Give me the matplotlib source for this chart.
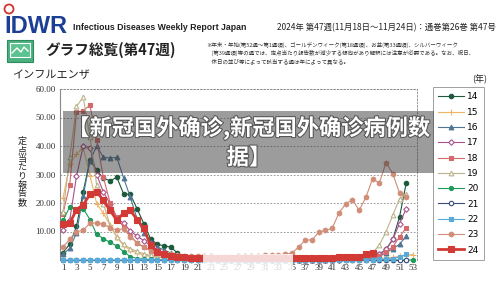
import matplotlib
matplotlib.use("Agg")
import matplotlib.pyplot as plt
from matplotlib.patches import Rectangle, Ellipse
from matplotlib.lines import Line2D
import matplotlib.patheffects as pe

plt.rcParams['font.family'] = ['Noto Sans CJK JP', 'DejaVu Sans']

# ---------------- data (per-sentinel influenza reports by week) ----------------
years = ['14', '15', '16', '17', '18', '19', '20', '21', '22', '23', '24']

y14 = [2.6, 5.6, 11.8, 24.0, 35.0, 31.5, 28.7, 27.8, 29.0, 23.2, 23.0, 18.0, 12.8, 7.5, 5.5, 5.0, 4.5, 2.5, 1.2, 0.7,
       0.4, 0.3, 0.2, 0.1, 0.1, 0.1, 0.1, 0.0, 0.0, 0.0, 0.0, 0.0, 0.0, 0.0, 0.0, 0.1, 0.1, 0.1, 0.1, 0.1,
       0.1, 0.1, 0.2, 0.2, 0.3, 0.5, 0.9, 2.0, 3.7, 7.2, 15.1, 27.0]
y15 = [21.7, 33.8, 37.2, 39.4, 29.6, 19.8, 16.4, 12.2, 8.1, 5.0, 3.5, 2.5, 1.8, 1.3, 1.0, 0.8, 0.6, 0.4, 0.3, 0.2,
       0.1, 0.1, 0.1, 0.1, 0.0, 0.0, 0.0, 0.0, 0.0, 0.0, 0.0, 0.0, 0.0, 0.0, 0.0, 0.0, 0.1, 0.1, 0.1, 0.1,
       0.1, 0.1, 0.1, 0.2, 0.2, 0.3, 0.4, 0.5, 0.7, 0.9, 1.3, 1.7, 1.9]
y16 = [2.0, 4.1, 9.5, 22.6, 34.7, 40.0, 36.0, 35.8, 36.0, 28.8, 22.0, 14.5, 9.5, 6.2, 4.6, 3.5, 2.5, 1.6, 1.0, 0.6,
       0.4, 0.3, 0.2, 0.1, 0.1, 0.1, 0.0, 0.0, 0.0, 0.0, 0.0, 0.0, 0.0, 0.0, 0.0, 0.1, 0.1, 0.1, 0.1, 0.1,
       0.1, 0.2, 0.2, 0.3, 0.4, 0.6, 0.9, 1.4, 2.5, 4.0, 5.5, 8.4]
y17 = [10.6, 14.0, 29.4, 40.0, 39.4, 30.0, 23.8, 19.8, 14.6, 12.9, 10.2, 8.4, 6.8, 5.0, 3.5, 2.5, 1.8, 1.2, 0.8, 0.5,
       0.3, 0.2, 0.2, 0.1, 0.1, 0.1, 0.0, 0.0, 0.0, 0.0, 0.0, 0.0, 0.0, 0.0, 0.0, 0.1, 0.1, 0.1, 0.1, 0.1,
       0.1, 0.1, 0.2, 0.2, 0.3, 0.5, 0.9, 2.0, 3.7, 7.2, 12.8, 18.0]
y18 = [16.3, 26.4, 51.9, 52.4, 54.3, 42.0, 29.0, 20.0, 15.0, 11.5, 8.5, 6.0, 4.5, 3.3, 2.5, 1.8, 1.2, 0.8, 0.5, 0.3,
       0.2, 0.2, 0.1, 0.1, 0.1, 0.1, 0.0, 0.0, 0.0, 0.0, 0.0, 0.0, 0.0, 0.0, 0.0, 0.1, 0.1, 0.1, 0.1, 0.1,
       0.1, 0.1, 0.2, 0.2, 0.3, 0.4, 0.8, 1.5, 2.9, 4.6, 8.1, 11.3]
y19 = [16.8, 36.0, 53.9, 57.1, 43.2, 26.3, 19.8, 12.0, 8.0, 5.5, 4.0, 3.0, 2.2, 1.6, 1.2, 0.9, 0.7, 0.5, 0.4, 0.3,
       0.2, 0.2, 0.2, 0.2, 0.2, 0.2, 0.2, 0.2, 0.2, 0.2, 0.2, 0.2, 0.2, 0.3, 0.3, 0.3, 0.3, 0.3, 0.4, 0.4,
       0.5, 0.6, 0.7, 0.8, 1.0, 1.8, 2.5, 5.2, 9.9, 15.7, 21.5, 23.2]
y20 = [13.9, 18.6, 17.7, 18.0, 14.2, 9.0, 7.5, 6.2, 4.9, 2.9, 1.2, 0.5, 0.3, 0.2, 0.1, 0.0, 0.0, 0.0, 0.0, 0.0,
       0.0, 0.0, 0.0, 0.0, 0.0, 0.0, 0.0, 0.0, 0.0, 0.0, 0.0, 0.0, 0.0, 0.0, 0.0, 0.0, 0.0, 0.0, 0.0, 0.0,
       0.0, 0.0, 0.0, 0.0, 0.0, 0.0, 0.0, 0.0, 0.0, 0.0, 0.0, 0.0, 0.0]
y21 = [0.0] * 52
y22 = [0.0] * 46 + [0.1, 0.2, 0.3, 0.5, 1.0, 2.0]
y23 = [4.6, 7.3, 9.9, 10.5, 12.9, 13.0, 12.5, 11.3, 10.5, 11.0, 8.1, 6.0, 4.5, 3.5, 2.8, 2.3, 2.0, 1.8, 1.5, 1.4,
       1.4, 1.3, 1.3, 1.2, 1.2, 1.2, 1.3, 1.3, 1.4, 1.5, 1.6, 1.7, 1.8, 2.0,
       2.4, 4.5, 7.0, 7.0, 9.8, 10.4, 11.1, 16.5, 19.7, 21.2, 17.4, 22.0, 28.5, 27.0, 34.2, 30.3, 23.5, 22.0]
y24 = [12.8, 12.9, 17.7, 19.4, 23.0, 24.0, 20.9, 17.4, 13.9, 16.5, 17.4, 14.2, 11.1, 5.2, 2.8, 2.2, 1.5, 1.2, 0.9, 0.8,
       0.7, 0.7, 0.7, 0.7, 0.7, 0.7, 0.7, 0.7, 0.7, 0.7, 0.7, 0.7, 0.7, 0.7, 0.7, 0.7, 0.7, 0.8, 0.8, 0.8,
       0.8, 0.9, 0.9, 0.9, 1.2, 2.0, 2.3]

series = [y14, y15, y16, y17, y18, y19, y20, y21, y22, y23, y24]
week_ticks = list(range(1, 54, 2))
ytick_vals = [10, 20, 30, 40, 50, 60]

colors = ['#1d5a3c', '#f0b468', '#4f7592', '#a8508e', '#d46a6c', '#bdb48c',
          '#1f9a5c', '#3c4c7c', '#5aaad8', '#d08e78', '#d23a36']
markers = ['o', '+', '^', 'D', 's', '^', 'o', 'o', 's', 'h', 's']
mfcs = [None, None, None, 'white', None, 'white', None, 'white', None, None, None]
msizes = [3.2, 4, 3.4, 2.8, 3.2, 3.4, 3.0, 3.2, 3.0, 3.6, 5.0]
lws = [0.8, 0.8, 0.8, 0.8, 0.8, 0.8, 0.8, 0.8, 0.8, 0.8, 2.0]

W, H = 500, 285
fig = plt.figure(figsize=(5.0, 2.85), dpi=100)
fig.patch.set_facecolor('white')

def fx(px):
    return px / W

def fy(py):
    return 1 - py / H

# ---------------- axes ----------------
ax = fig.add_axes([fx(60), fy(260), fx(417) - fx(60), fy(89) - fy(260)])
for i, (yr, vals) in enumerate(zip(years, series)):
    wk = list(range(1, len(vals) + 1))
    mfc = mfcs[i] if mfcs[i] else colors[i]
    ax.plot(wk, vals, color=colors[i], marker=markers[i], markersize=msizes[i],
            markerfacecolor=mfc, markeredgecolor=colors[i], markeredgewidth=0.8,
            linewidth=lws[i], label=yr, clip_on=False, zorder=3 + i * 0.1)

ax.set_xlim(0.55, 53.6)
ax.set_ylim(0, 60)
ax.set_xticks(week_ticks)
ax.set_xticklabels([str(w) for w in week_ticks], fontfamily='Liberation Serif', fontsize=6.5)
ax.set_yticks(ytick_vals)
ax.set_yticklabels([f'{v:.2f}' for v in ytick_vals], fontfamily='Liberation Serif', fontsize=6.5)
ax.tick_params(length=0, pad=3, colors='#333333')
ax.grid(axis='y', linestyle=(0, (2, 2)), color='#888888', linewidth=0.6)
for s in ['top', 'right']:
    ax.spines[s].set_linestyle((0, (2, 2)))
    ax.spines[s].set_color('#888888')
    ax.spines[s].set_linewidth(0.6)
ax.spines['bottom'].set_visible(False)
ax.spines['left'].set_color('#888888')
ax.spines['left'].set_linewidth(0.8)

leg = ax.legend(loc='upper left', bbox_to_anchor=(fx(433), fy(87)), bbox_transform=fig.transFigure,
                handlelength=2.8, handletextpad=0.4, labelspacing=0.7,
                borderpad=0.6, borderaxespad=0, frameon=True, fancybox=False,
                prop={'family': 'DejaVu Sans', 'size': 6.5})
leg.get_frame().set_edgecolor('#888888')
leg.get_frame().set_linewidth(0.7)

fig.text(fx(480), fy(79), '(年)', fontsize=6.5, ha='center', va='center', color='#222222')

# y label (stacked vertical Japanese text)
fig.text(fx(22), fy(172), '\n'.join('定点当たり報告数'), fontsize=6.5, ha='center', va='center',
         linespacing=0.95, color='#222222')
fig.text(fx(12), fy(75), 'インフルエンザ', fontsize=8, ha='left', va='center', color='#222222')

# ---------------- header ----------------
fig.text(fx(4), fy(33), 'IDWR', fontsize=17, fontweight='bold', color='#1c3f96',
         fontfamily=['Liberation Sans', 'DejaVu Sans'], ha='left', va='baseline')
fig.add_artist(Ellipse((fx(9), fy(9)), fx(9), 9 / H, fill=False, edgecolor='#d2332e', linewidth=1.3))
fig.text(fx(73), fy(30), 'Infectious Diseases Weekly Report Japan', fontsize=6.3, fontweight='bold',
         fontfamily=['Liberation Sans', 'DejaVu Sans'], color='#222222', ha='left', va='baseline')
fig.text(fx(496), fy(30), '2024年 第47週(11月18日～11月24日)：通巻第26巻 第47号', fontsize=6.0,
         color='#222222', ha='right', va='baseline')

# icon
fig.add_artist(Rectangle((fx(7), fy(62)), fx(26), 22 / H, facecolor='#49b07e', edgecolor='#2f8a5e', linewidth=0.8))
fig.add_artist(Rectangle((fx(10), fy(57)), fx(20), 14 / H, facecolor='#5cc28f', edgecolor='white', linewidth=0.8))
fig.add_artist(Line2D([fx(12), fx(17), fx(21), fx(24), fx(28)], [fy(53), fy(48), fy(52), fy(47), fy(51)],
                      color='white', linewidth=1.0))
fig.text(fx(45), fy(50), 'グラフ総覧(第47週)', fontsize=10.5, fontweight='bold', color='#222222',
         ha='left', va='center')
note = ('※年末・年始(第52週～第1週頃)、ゴールデンウィーク(第18週頃)、お盆(第33週頃)、シルバーウィーク\n'
        '　(第39週頃)等の週では、定点当たり報告数が減少する傾向があり解釈には注意が必要である。なお、祝日、\n'
        '　休日の並び等によって該当する週は年によって異なる。')
fig.text(fx(206), fy(53), note, fontsize=3.95, color='#333333', ha='left', va='center', linespacing=1.35)

# ---------------- blurred strip near bottom ----------------
fig.add_artist(Rectangle((fx(203), fy(276)), fx(90), 22 / H, facecolor='white', edgecolor='none',
                         alpha=0.8, zorder=20))

# ---------------- banner overlay ----------------
fig.add_artist(Rectangle((fx(63), fy(173)), fx(434 - 63), 62 / H, facecolor='#3a3a3a', edgecolor='none',
                         alpha=0.5, zorder=30))
for txt, yy in [('【新冠国外确诊,新冠国外确诊病例数', 128), ('据】', 158)]:
    t = fig.text(fx(249), fy(yy), txt, fontsize=16, fontweight='bold', color='white',
                 fontfamily=['Noto Sans CJK SC', 'DejaVu Sans'], ha='center', va='center', zorder=31)
    t.set_path_effects([pe.withStroke(linewidth=1.5, foreground='#555555')])

fig.savefig('out.png', dpi=100, facecolor='white')
